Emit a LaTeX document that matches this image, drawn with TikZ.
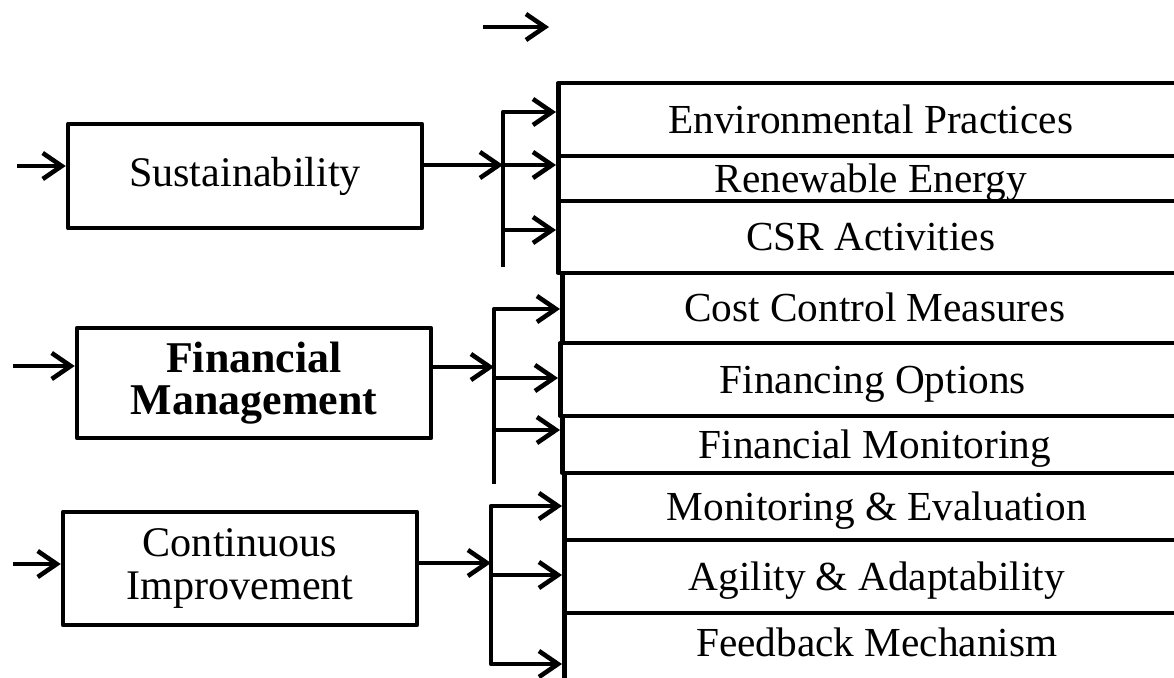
\documentclass[tikz,border=0pt]{standalone}
\usepackage{fontspec}
\setmainfont{Liberation Serif}
\usetikzlibrary{positioning, arrows.meta}

\begin{document}
\begin{tikzpicture}[x=0.02cm, y=-0.02cm, line width=2.6pt, line join=round,
    flow/.style={-{Straight Barb[length=0.38cm, width=0.52cm]}},
    mainbox/.style={draw, rectangle, minimum width=7.08cm, align=center, inner sep=0pt,
      font=\fontsize{24}{24}\selectfont},
    subbox/.style={draw, rectangle, minimum width=12.5cm, inner sep=0pt,
      text height=0.54cm, text depth=0pt, font=\fontsize{23.5}{27}\selectfont}]
  \useasboundingbox (0,0) rectangle (1174,677);
  \clip (0,0) rectangle (1174,677);

  % left column
  \node[mainbox, minimum height=2.08cm] at (245, 176) (sus) {Sustainability};
  \node[mainbox, minimum height=2.2cm, font=\fontsize{25}{24}\selectfont\bfseries] at (254, 383) (fin) {Financial \\ Management};
  \node[mainbox, minimum height=2.26cm] at (240, 568.5) (cont) {Continuous \\ Improvement};

  % right column
  \node[subbox, minimum height=1.46cm, anchor=west] at (556, 119.5) (r1) {Environmental Practices};
  \node[subbox, minimum height=0.9cm, anchor=west] at (556, 178.5) (r2) {Renewable Energy};
  \node[subbox, minimum height=1.44cm, anchor=west] at (556, 237) (r3) {CSR Activities};
  \node[subbox, minimum height=1.4cm, anchor=west] at (560, 308) (r4) {Cost Control Measures};
  \node[subbox, minimum height=1.46cm, anchor=west] at (558, 379.5) (r5) {Financing Options};
  \node[subbox, minimum height=1.14cm, anchor=west] at (560, 444.5) (r6) {Financial Monitoring};
  \node[subbox, minimum height=1.34cm, anchor=west] at (562, 506.5) (r7) {Monitoring \& Evaluation};
  \node[subbox, minimum height=1.46cm, anchor=west] at (562, 576.5) (r8) {Agility \& Adaptability};
  \node[subbox, minimum height=1.54cm, anchor=west, text depth=0.36cm] at (562, 651.5) (r9) {Feedback Mechanism};

  % free arrows and bus points
  \coordinate (topL) at (483, 27);
  \coordinate (topR) at (549, 27);
  \coordinate (susIn) at (17, 166);
  \coordinate (finIn) at (13, 366);
  \coordinate (contIn) at (13, 564);
  \coordinate (susOut) at (503, 165);
  \coordinate (finOut) at (494, 367);
  \coordinate (contOut) at (491, 563);
  \coordinate (susTop) at (503, 112);
  \coordinate (susLow) at (503, 230);
  \coordinate (susEnd) at (503, 267);
  \coordinate (finTop) at (494, 309);
  \coordinate (finMid) at (494, 378);
  \coordinate (finLow) at (494, 430);
  \coordinate (finEnd) at (494, 484);
  \coordinate (contTop) at (491, 506);
  \coordinate (contMid) at (491, 575);
  \coordinate (contLow) at (491, 664);

  \draw[flow] (topL) -- (topR);

  % sustainability
  \draw[flow] (susIn) -- (susIn -| sus.west);
  \draw[flow] (sus.east |- susOut) -- (susOut);
  \draw[flow] (susEnd) -- (susTop) -- (susTop -| r1.west);
  \draw[flow] (susOut) -- (susOut -| r2.west);
  \draw[flow] (susLow) -- (susLow -| r3.west);

  % financial management
  \draw[flow] (finIn) -- (finIn -| fin.west);
  \draw[flow] (fin.east |- finOut) -- (finOut);
  \draw[flow] (finEnd) -- (finTop) -- (finTop -| r4.west);
  \draw[flow] (finMid) -- (finMid -| r5.west);
  \draw[flow] (finLow) -- (finLow -| r6.west);

  % continuous improvement
  \draw[flow] (contIn) -- (contIn -| cont.west);
  \draw[flow] (cont.east |- contOut) -- (contOut);
  \draw[flow] (contLow) -- (contTop) -- (contTop -| r7.west);
  \draw[flow] (contMid) -- (contMid -| r8.west);
  \draw[flow] (contTop) -- (contLow) -- (contLow -| r9.west);
\end{tikzpicture}
\end{document}
